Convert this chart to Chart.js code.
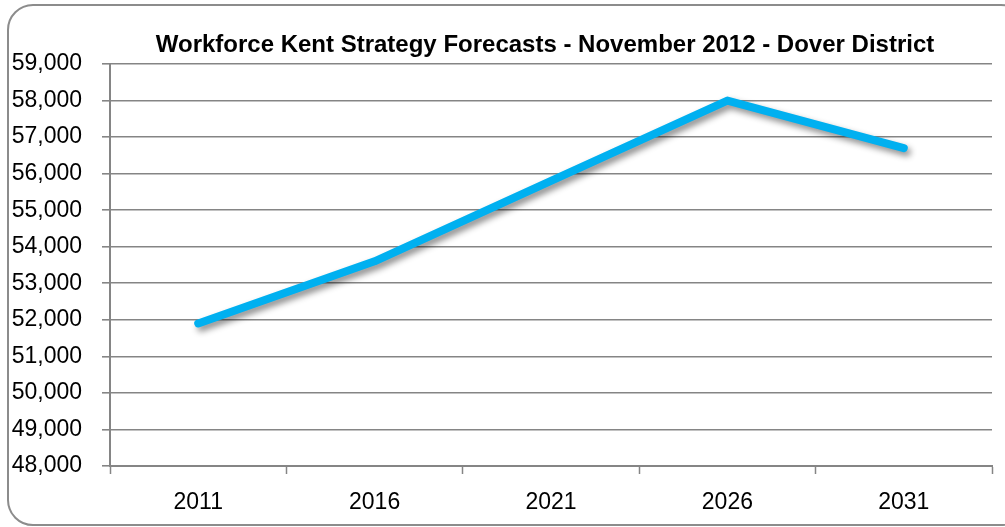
<!DOCTYPE html>
<html>
<head>
<meta charset="utf-8">
<script src="https://cdn.jsdelivr.net/npm/chart.js@4/dist/chart.umd.min.js"></script>
<style>
    html, body { margin: 0; padding: 0; background: #fff; overflow: hidden; }
    #wrap { position: relative; width: 1005px; height: 527px; overflow: hidden; }
    #frame {
        position: absolute; left: 7px; top: 4px; width: 1020px; height: 522px;
        border: 2px solid #8c8c8c; border-radius: 26px; box-sizing: border-box;
    }
    #workforce-chart { position: absolute; left: 0; top: 0; }
</style>
</head>
<body>
<div id="wrap">
    <div id="frame"></div>
    <canvas id="workforce-chart" width="1005" height="527"></canvas>
</div>
<script>
var chartTitle = 'Workforce Kent Strategy Forecasts - November 2012 - Dover District';
var chartYears = ['2011', '2016', '2021', '2026', '2031'];
var chartWorkforce = [51900, 53600, 55800, 58000, 56700];
var chartYMin = 48000;
var chartYMax = 59000;
var chartYStep = 1000;

// drop shadow under the line, like the Excel original
var lineShadow = {
    id: 'lineShadow',
    beforeDatasetDraw: function (chart) {
        var ctx = chart.ctx;
        ctx.save();
        ctx.shadowColor = 'rgba(0, 0, 0, 0.45)';
        ctx.shadowBlur = 6;
        ctx.shadowOffsetX = 3;
        ctx.shadowOffsetY = 4;
    },
    afterDatasetDraw: function (chart) {
        chart.ctx.restore();
    }
};

// title centred over the plot area (the built-in one centres on the canvas)
var plotTitle = {
    id: 'plotTitle',
    afterDraw: function (chart) {
        var ctx = chart.ctx;
        var area = chart.chartArea;
        ctx.save();
        ctx.font = 'bold 24px "Liberation Sans"';
        ctx.fillStyle = '#000';
        ctx.textAlign = 'center';
        ctx.textBaseline = 'middle';
        ctx.fillText(chartTitle, (area.left + area.right) / 2 - 6, 45);
        ctx.restore();
    }
};

var ctxWorkforce = document.getElementById('workforce-chart').getContext('2d');

var dataWorkforce = {
    labels: chartYears,
    datasets: [{
        label: 'Workforce',
        data: chartWorkforce,
        borderColor: '#00b0f0',
        backgroundColor: '#00b0f0',
        borderWidth: 8,
        borderCapStyle: 'round',
        borderJoinStyle: 'round',
        pointRadius: 0,
        tension: 0
    }]
};

var optionWorkforce = {
    responsive: false,
    animation: false,
    layout: { padding: { left: 0, right: 13, top: 64, bottom: 0 } },
    plugins: {
        legend: { display: false },
        tooltip: { enabled: false },
        title: { display: false }
    },
    scales: {
        x: {
            offset: true,
            grid: {
                offset: true,
                drawOnChartArea: false,
                tickLength: 8,
                tickColor: '#858585',
                tickWidth: 1.5
            },
            border: { color: '#858585', width: 2 },
            ticks: {
                color: '#000',
                padding: 15,
                font: { family: 'Liberation Sans', size: 23 }
            },
            afterFit: function (scale) { scale.height = 61; }
        },
        y: {
            min: chartYMin,
            max: chartYMax,
            grid: {
                color: '#858585',
                lineWidth: 1.6,
                tickLength: 8,
                tickColor: '#858585'
            },
            border: { color: '#858585', width: 2 },
            ticks: {
                stepSize: chartYStep,
                color: '#000',
                padding: 20,
                font: { family: 'Liberation Sans', size: 23 },
                callback: function (value) {
                    return value.toLocaleString('en-GB');
                }
            },
            afterFit: function (scale) { scale.width = 110; }
        }
    }
};

new Chart(ctxWorkforce, {
    type: 'line',
    data: dataWorkforce,
    options: optionWorkforce,
    plugins: [lineShadow, plotTitle]
});
</script>
</body>
</html>
